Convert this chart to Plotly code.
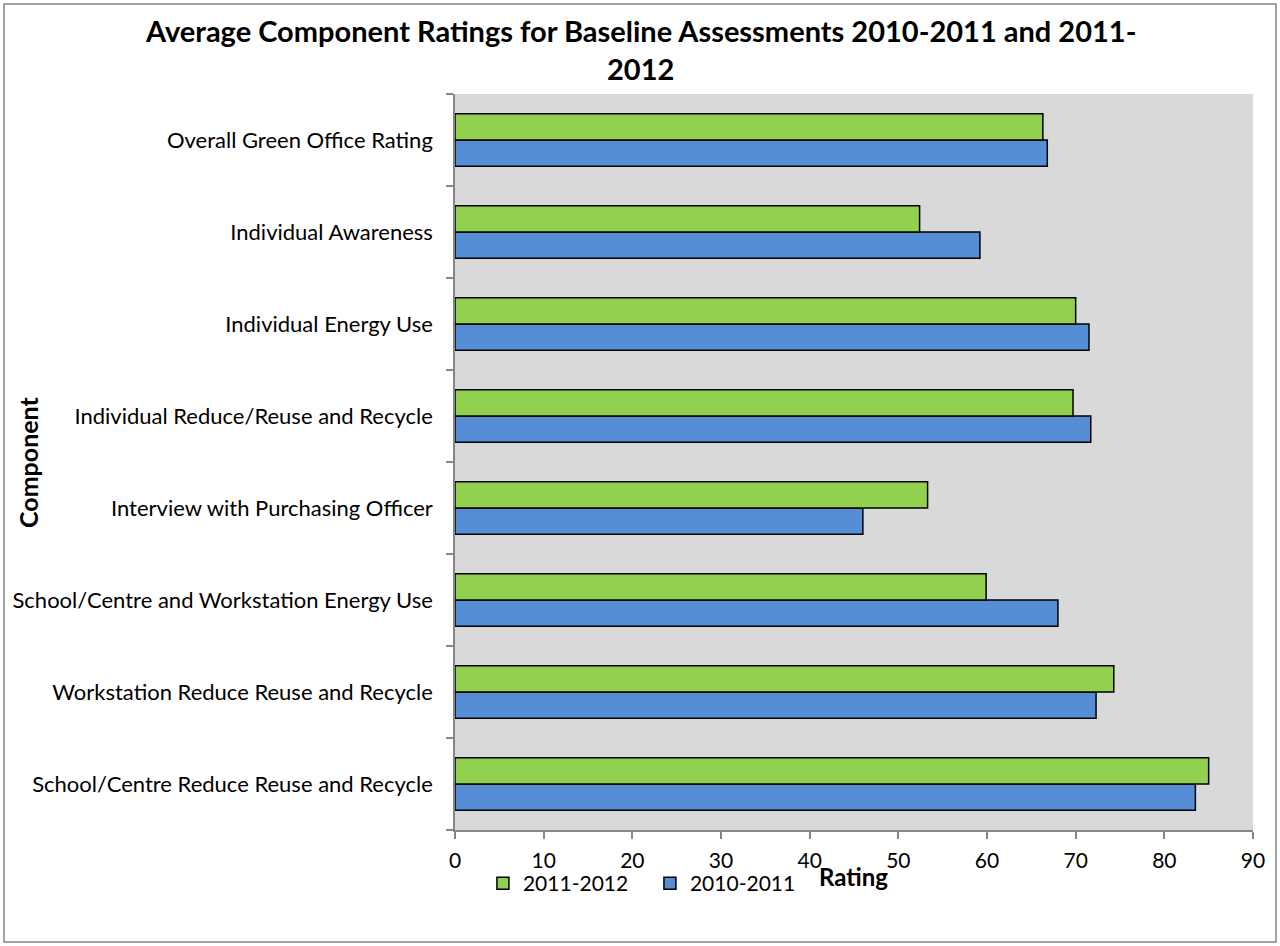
import plotly.graph_objects as go

categories = [
    "School/Centre Reduce Reuse and Recycle",
    "Workstation Reduce Reuse and Recycle",
    "School/Centre and Workstation Energy Use",
    "Interview with Purchasing Officer",
    "Individual Reduce/Reuse and Recycle",
    "Individual Energy Use",
    "Individual Awareness",
    "Overall Green Office Rating",
]
values_2010_2011 = [83.5, 72.3, 68.0, 46.0, 71.7, 71.5, 59.2, 66.8]
values_2011_2012 = [85.0, 74.3, 59.9, 53.3, 69.7, 70.0, 52.4, 66.3]
x_ticks = [0, 10, 20, 30, 40, 50, 60, 70, 80, 90]

FONT = "Lato"

fig = go.Figure()
fig.add_trace(go.Bar(
    y=categories, x=values_2010_2011, orientation="h", name="2010-2011",
    marker=dict(color="#558ED5", line=dict(color="#000000", width=1.5)),
))
fig.add_trace(go.Bar(
    y=categories, x=values_2011_2012, orientation="h", name="2011-2012",
    marker=dict(color="#92D050", line=dict(color="#000000", width=1.5)),
))

fig.update_layout(
    width=1280, height=946,
    margin=dict(l=455, r=27, t=94, b=116, autoexpand=False),
    paper_bgcolor="white",
    plot_bgcolor="#D9D9D9",
    barmode="group",
    bargap=0.43,
    bargroupgap=0,
    font=dict(family=FONT, size=21, color="#000000"),
    showlegend=True,
    legend=dict(
        orientation="h", traceorder="reversed",
        x=0.035, y=-0.045, xanchor="left", yanchor="top",
        font=dict(family=FONT, size=21, color="#000000"),
        bgcolor="rgba(0,0,0,0)", itemwidth=30,
        entrywidth=122, entrywidthmode="pixels",
    ),
    xaxis=dict(
        range=[0, 90], tickvals=x_ticks, ticktext=[str(v) for v in x_ticks],
        showgrid=False, zeroline=False,
        showline=True, linecolor="#868686", linewidth=1.5,
        ticks="outside", ticklen=7, tickcolor="#868686", tickwidth=1.5,
        tickfont=dict(family=FONT, size=21, color="#000000"),
        ticklabelstandoff=4,
        fixedrange=True,
    ),
    yaxis=dict(
        showgrid=False, zeroline=False,
        showline=True, linecolor="#868686", linewidth=1.5,
        ticks="outside", ticklen=7, tickcolor="#868686", tickwidth=1.5,
        tickson="boundaries",
        tickfont=dict(family=FONT, size=22, color="#000000"),
        ticklabelstandoff=16,
        fixedrange=True,
    ),
    shapes=[dict(
        type="rect", xref="paper", yref="paper",
        x0=(4 - 455) / 798, x1=(1276 - 455) / 798,
        y0=(830 - 942) / 736, y1=(830 - 4) / 736,
        line=dict(color="#868686", width=1.5), fillcolor="rgba(0,0,0,0)",
        layer="below",
    )],
    annotations=[
        dict(text="<b>Average Component Ratings for Baseline Assessments 2010-2011 and 2011-</b>",
             xref="paper", yref="paper", x=(640 - 455) / 798, y=(830 - 31) / 736,
             xanchor="center", yanchor="middle", showarrow=False,
             font=dict(family=FONT, size=29, color="#000000")),
        dict(text="<b>2012</b>",
             xref="paper", yref="paper", x=(640 - 455) / 798, y=(830 - 69) / 736,
             xanchor="center", yanchor="middle", showarrow=False,
             font=dict(family=FONT, size=29, color="#000000")),
        dict(text="<b>Component</b>",
             xref="paper", yref="paper", x=(28 - 455) / 798, y=(830 - 462) / 736,
             xanchor="center", yanchor="middle", showarrow=False, textangle=-90,
             font=dict(family=FONT, size=25, color="#000000")),
        dict(text="<b>Rating</b>",
             xref="paper", yref="paper", x=(853 - 455) / 798, y=(830 - 876) / 736,
             xanchor="center", yanchor="middle", showarrow=False,
             font=dict(family=FONT, size=24, color="#000000")),
    ],
)

fig.write_html("out.html")
